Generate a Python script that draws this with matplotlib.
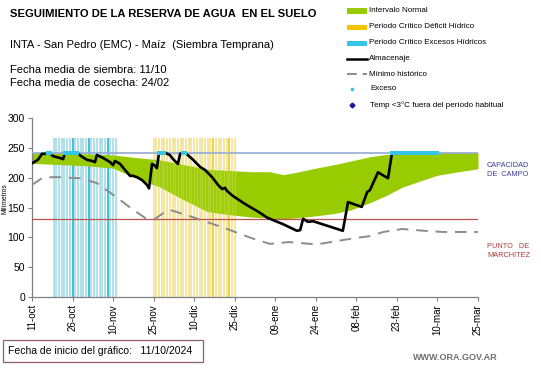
import matplotlib
matplotlib.use("Agg")
import matplotlib.pyplot as plt
from matplotlib.lines import Line2D
from matplotlib.patches import Rectangle
import numpy as np

plt.rcParams['font.family'] = ['Liberation Sans', 'DejaVu Sans']

# ---------------- data (days since 11-oct-2024) ----------------
tick_days = [0, 15, 30, 45, 60, 75, 90, 105, 120, 135, 150, 165]
tick_labels = ['11-oct', '26-oct', '10-nov', '25-nov', '10-dic', '25-dic',
               '09-ene', '24-ene', '08-feb', '23-feb', '10-mar', '25-mar']

capacidad_campo = 242
punto_marchitez = 130

band_days = [0, 10, 20, 30, 40, 47, 56, 65, 73, 81, 88, 93, 99, 105, 112, 118, 125, 131, 137, 144, 150, 158, 165]
band_upper = [242, 241, 240, 238, 233, 230, 222, 214, 212, 210, 210, 205, 210, 216, 222, 228, 235, 239, 241, 242, 242, 242, 242]
band_lower = [224, 222, 220, 216, 196, 185, 163, 143, 138, 134, 132, 131, 133, 136, 140, 146, 158, 170, 184, 195, 204, 210, 215]

min_days = [0, 4, 8.5, 18, 24, 31, 36, 42, 45.5, 49, 51, 58, 71, 81, 88, 95, 103, 106.5, 113, 120, 125, 130, 137, 145, 152, 165]
min_vals = [188, 200, 201, 199, 191, 168, 151, 132, 131, 142, 146, 136, 116, 99, 89, 92, 89, 89, 94, 99, 102, 109, 114, 111, 109, 109]

alm_days = [0, 2.2, 3.7, 5.5, 6.3, 7.8, 10.4, 11.5, 12.2, 16.6, 18.5, 20.3, 22.2, 23.3, 24, 26.3,
            28.9, 30, 30.7, 32.6, 34.4, 36.3, 37.4, 38.8, 40.7, 42.5, 43.3, 44.4, 45.5, 46.2, 47,
            49.2, 50, 51, 52.2, 54, 54.8, 56.6, 59.6, 62.2, 64, 66.6, 68.8, 70.3, 71.4, 72.1, 74.4,
            79.5, 84.4, 87, 92.9, 98, 99.2, 100.3, 102.1, 104, 115, 116.9, 122, 124, 125, 128,
            131.7, 133.2, 149.8]
alm_vals = [224, 230, 240, 240, 242, 236, 233, 231, 242, 242, 235, 230, 228, 226, 238, 233,
            226, 221, 228, 223, 213, 203, 203, 201, 196, 188, 182, 223, 220, 216, 242,
            242, 240, 238, 231, 223, 240, 242, 230, 218, 213, 201, 188, 181, 183, 178, 169,
            154, 141, 133, 122, 111, 112, 131, 126, 127, 111, 159, 151, 176, 179, 209,
            199, 242, 242]

exceso_days = [5.8, 6.3, 6.8, 12.2, 13, 14, 15, 16, 16.6, 47, 48, 49, 56, 56.6,
               133.2, 134, 135, 136, 137, 138, 139, 140, 141, 142, 143, 144, 145, 146, 147, 148, 149, 149.8]
exceso_vals = [242] * len(exceso_days)

excesos_periodo = list(range(8, 32))
excesos_oscuros = [15, 21, 28]
deficit_periodo = list(range(45, 76))
deficit_oscuros = [67, 73]
periodo_alto = 266

# ---------------- figure ----------------
W, H = 541, 368
fig = plt.figure(figsize=(W / 100, H / 100), dpi=100)
fig.patch.set_facecolor('white')

def fx(px):
    return px / W

def fy(py):
    return 1 - py / H

ax = fig.add_axes([fx(32), fy(297), fx(478) - fx(32), fy(118) - fy(297)])
ax.set_xlim(0, 165)
ax.set_ylim(0, 300)

# critical periods (vertical stripes, behind the band)
ax.vlines(excesos_periodo, 0, periodo_alto, color='#a9dfeb', lw=1.3, zorder=1)
ax.vlines(excesos_oscuros, 0, periodo_alto, color='#45bcd6', lw=1.3, zorder=1)
ax.vlines(deficit_periodo, 0, periodo_alto, color='#f4e6a0', lw=1.3, zorder=1)
ax.vlines(deficit_oscuros, 0, periodo_alto, color='#eccb2a', lw=1.3, zorder=1)

# normal interval band
ax.fill_between(band_days, band_lower, band_upper, color='#99cc00', lw=0, zorder=2)
# faint yellow stripes showing through the band
ax.vlines(deficit_periodo, 0, periodo_alto, color='#f4e6a0', lw=1.0, alpha=0.3, zorder=2.5)

# reference lines
ax.axhline(capacidad_campo, color='#95aad6', lw=1.2, zorder=3)
ax.axhline(punto_marchitez, color='#c0504d', lw=0.9, zorder=3)

# minimum historic
ax.plot(min_days, min_vals, color='#8c8c8c', lw=1.4, ls=(0, (6, 4)), zorder=4)

# storage
ax.plot(alm_days, alm_vals, color='black', lw=1.9, zorder=5)

# exceso markers
ax.scatter(exceso_days, exceso_vals, s=7, marker='s', color='#33c6e8', lw=0, zorder=6)

# axes styling
for s in ['top', 'right']:
    ax.spines[s].set_visible(False)
for s in ['left', 'bottom']:
    ax.spines[s].set_color('#808080')
    ax.spines[s].set_linewidth(0.9)
ax.set_yticks([0, 50, 100, 150, 200, 250, 300])
ax.tick_params(axis='y', labelsize=7.5, length=3, color='#808080', pad=2)
ax.set_xticks(tick_days)
ax.set_xticklabels(tick_labels, rotation=90)
ax.tick_params(axis='x', labelsize=7, length=3, color='#808080', pad=2)
fig.text(fx(5), fy(199), 'Milímetros', fontsize=4.8, rotation=90, va='center', ha='center')

# right side annotations
fig.text(fx(487), fy(170), 'CAPACIDAD\nDE  CAMPO', fontsize=5.3, color='#3c3ca8',
         va='center', ha='left', linespacing=1.3)
fig.text(fx(487), fy(251), 'PUNTO   DE\nMARCHITEZ', fontsize=5.3, color='#b03a3a',
         va='center', ha='left', linespacing=1.3)

# titles
fig.text(fx(10), fy(14), 'SEGUIMIENTO DE LA RESERVA DE AGUA  EN EL SUELO', fontsize=8.1,
         fontweight='bold', va='center', ha='left')
fig.text(fx(10), fy(45), 'INTA - San Pedro (EMC) - Maíz  (Siembra Temprana)', fontsize=8,
         va='center', ha='left')
fig.text(fx(10), fy(70), 'Fecha media de siembra: 11/10', fontsize=8, va='center', ha='left')
fig.text(fx(10), fy(83), 'Fecha media de cosecha: 24/02', fontsize=8, va='center', ha='left')

# legend (manual)
leg_fs = 5.8
patch_items = [(11, '#99cc00', 'Intervalo Normal'),
               (27, '#f5c400', 'Periodo Crítico Déficit Hídrico'),
               (43, '#33c6e8', 'Periodo Crítico Excesos Hídricos')]
for py, c, lab in patch_items:
    fig.add_artist(Rectangle((fx(347), fy(py + 2.5)), fx(367) - fx(347), 5 / H,
                             facecolor=c, edgecolor='none', transform=fig.transFigure))
    fig.text(fx(369), fy(py), lab, fontsize=leg_fs, va='center', ha='left')
fig.add_artist(Line2D([fx(347), fx(367)], [fy(59), fy(59)], color='black', lw=1.8,
                      transform=fig.transFigure))
fig.text(fx(369), fy(59), 'Almacenaje', fontsize=leg_fs, va='center', ha='left')
fig.add_artist(Line2D([fx(347), fx(367)], [fy(74), fy(74)], color='#8c8c8c', lw=1.4,
                      ls=(0, (5, 3)), transform=fig.transFigure))
fig.text(fx(369), fy(74), 'Mínimo histórico', fontsize=leg_fs, va='center', ha='left')
fig.add_artist(Line2D([fx(352)], [fy(89)], color='#33c6e8', marker='s', ms=2, lw=0,
                      transform=fig.transFigure))
fig.text(fx(370), fy(89), 'Exceso', fontsize=leg_fs, va='center', ha='left')
fig.add_artist(Line2D([fx(352)], [fy(105)], color='#1a1aa0', marker='D', ms=2.5, lw=0,
                      transform=fig.transFigure))
fig.text(fx(370), fy(105), 'Temp <3°C fuera del período habitual', fontsize=leg_fs,
         va='center', ha='left')

# bottom box
fig.add_artist(Rectangle((fx(3), fy(362)), fx(203) - fx(3), 22 / H, facecolor='white',
                         edgecolor='#8b5f6f', lw=0.9, transform=fig.transFigure))
fig.text(fx(8), fy(351), 'Fecha de inicio del gráfico:   11/10/2024', fontsize=7.5,
         va='center', ha='left')
fig.text(fx(498), fy(357), 'WWW.ORA.GOV.AR', fontsize=6.5, color='#707070',
         fontweight='bold', va='center', ha='right')

fig.savefig('out.png', dpi=100)
